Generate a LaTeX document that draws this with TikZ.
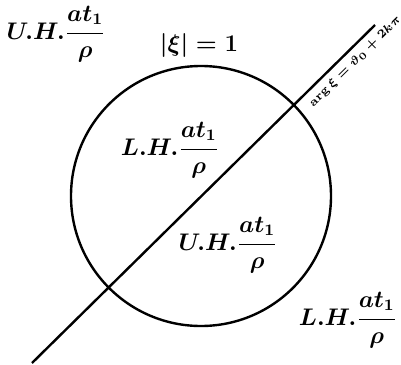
\documentclass[tikz,border=0pt]{standalone}
\usepackage{amsmath}
\usepackage{bm}
\begin{document}
\begin{tikzpicture}[x=0.5pt,y=-0.5pt,
  lab/.style={inner sep=0pt,font=\boldmath\large},
  curve/.style={line width=1.2pt}]
\useasboundingbox (0,0) rectangle (401,364);
\node[circle,draw,curve,minimum size=130pt,inner sep=0pt] (c) at (201,196) {};
\coordinate (A) at (32,363);
\coordinate (B) at (375,25);
\draw[curve] (A) -- node[sloped,anchor=north west,pos=0.775,inner sep=2.8pt,font=\fontsize{6.5}{7.5}\selectfont\boldmath] (arg) {$\arg\xi=\vartheta_0+2k\pi$} (B);
\node[lab] (uh1) at (56,34) {$U.H.\dfrac{at_1}{\rho}$};
\node[lab] (xi) at (199,45) {$|\xi|=1$};
\node[lab] (lh1) at (170,150) {$L.H.\dfrac{at_1}{\rho}$};
\node[lab] (uh2) at (228,245) {$U.H.\dfrac{at_1}{\rho}$};
\node[lab] (lh2) at (348,320) {$L.H.\dfrac{at_1}{\rho}$};
\end{tikzpicture}
\end{document}
